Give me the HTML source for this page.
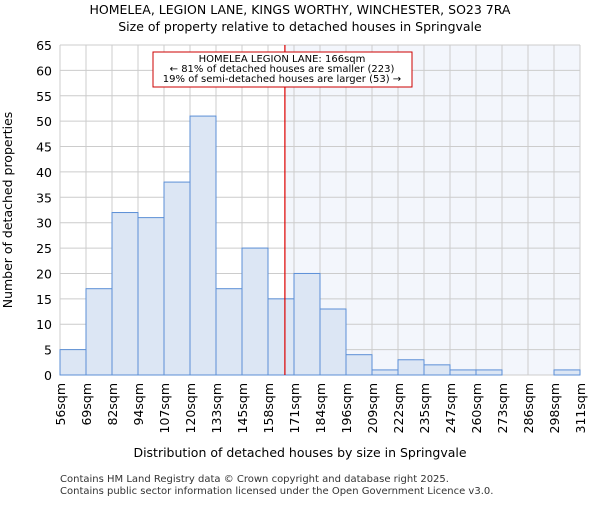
<!DOCTYPE html>
<html><head><meta charset="utf-8"><style>
body{margin:0;background:#fff;font-family:"Liberation Sans","DejaVu Sans",sans-serif}
</style></head><body>
<svg width="600" height="500" xmlns="http://www.w3.org/2000/svg" font-family="DejaVu Sans, Liberation Sans, sans-serif">
<text x="300" y="14" text-anchor="middle" font-size="12.5">HOMELEA, LEGION LANE, KINGS WORTHY, WINCHESTER, SO23 7RA</text>
<text x="300" y="31" text-anchor="middle" font-size="12.5">Size of property relative to detached houses in Springvale</text>
<g id="plot"></g>
<text x="300" y="457" text-anchor="middle" font-size="12.5">Distribution of detached houses by size in Springvale</text>
<text x="12" y="210" text-anchor="middle" font-size="12.5" transform="rotate(-90 12 210)">Number of detached properties</text>
<text x="60" y="482" font-size="10" fill="#333">Contains HM Land Registry data © Crown copyright and database right 2025.</text>
<text x="60" y="494" font-size="10" fill="#333">Contains public sector information licensed under the Open Government Licence v3.0.</text>
</svg>
<script>
const categories=["56sqm","69sqm","82sqm","94sqm","107sqm","120sqm","133sqm","145sqm","158sqm","171sqm","184sqm","196sqm","209sqm","222sqm","235sqm","247sqm","260sqm","273sqm","286sqm","298sqm","311sqm"];
const counts=[5,17,32,31,38,51,17,25,15,20,13,4,1,3,2,1,1,0,0,1];
const yTicks=[0,5,10,15,20,25,30,35,40,45,50,55,60,65];
const markerBin=8.65;
const NS="http://www.w3.org/2000/svg";
const g=document.getElementById('plot');
const L=60,R=580,T=45,B=375,yMax=65;
const bw=(R-L)/counts.length;
const xs=i=>L+i*bw;
const ys=v=>B-v/yMax*(B-T);
function mk(tag,attrs,parent){const e=document.createElementNS(NS,tag);for(const k in attrs)e.setAttribute(k,attrs[k]);(parent||g).appendChild(e);return e;}
const mx=xs(markerBin);
let sh=mk('rect',{x:mx,y:T,width:R-mx,height:B-T,fill:'#f3f6fc'});


yTicks.forEach(v=>{
  let l=mk('line',{x1:L,x2:R,y1:ys(v),y2:ys(v),stroke:'#ccc','stroke-width':1});
  
  
  let t=mk('text',{x:L-8,y:ys(v)+5,'text-anchor':'end','font-size':12.5});
  t.textContent=v;
  
  
});
categories.forEach((c,i)=>{
  let l=mk('line',{x1:xs(i),x2:xs(i),y1:T,y2:B,stroke:'#ccc','stroke-width':1});
  
  
  const tx=xs(i)+5,ty=B+8;
  let t=mk('text',{x:tx,y:ty,'text-anchor':'end','font-size':12.5,transform:`rotate(-90 ${tx} ${ty})`});
  t.textContent=c;
  
  
});
counts.forEach((v,i)=>{
  if(v<=0)return;
  let r=mk('rect',{x:xs(i),y:ys(v),width:bw,height:ys(0)-ys(v),fill:'#dce6f4',stroke:'#5b8fd6','stroke-width':1});
  
  
});
let ml=mk('line',{x1:mx,x2:mx,y1:T,y2:B,stroke:'#d00','stroke-width':1.2});


let box=mk('rect',{x:153,y:52,width:259,height:35,fill:'#fff',stroke:'#c00','stroke-width':1});


const lines=["HOMELEA LEGION LANE: 166sqm","← 81% of detached houses are smaller (223)","19% of semi-detached houses are larger (53) →"];
lines.forEach((s,i)=>{
  let t=mk('text',{x:282,y:62+i*10,'text-anchor':'middle','font-size':10});
  t.textContent=s;
  
  
});
</script>
</body></html>
